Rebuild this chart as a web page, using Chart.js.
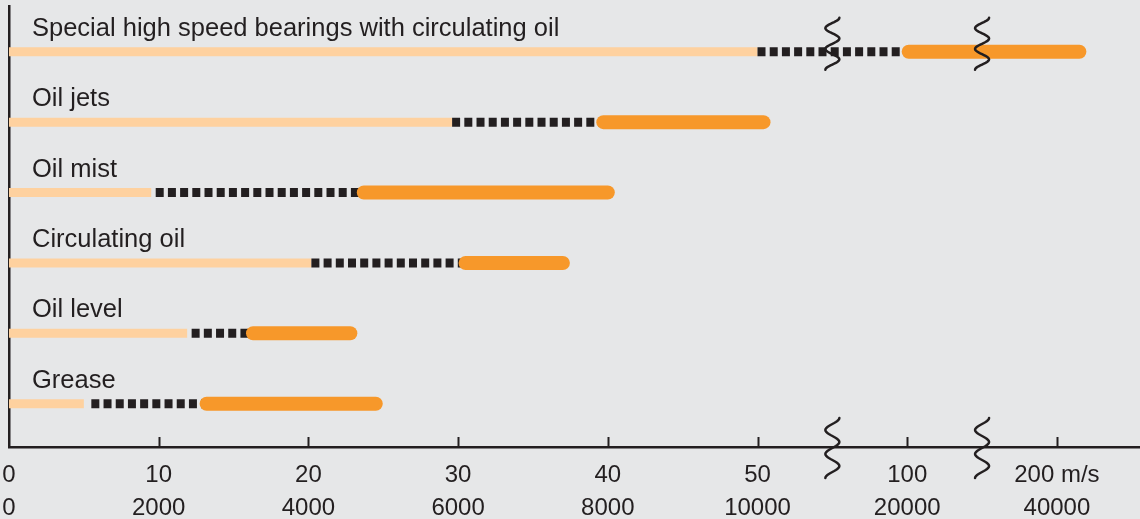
<!DOCTYPE html>
<html>
<head>
<meta charset="utf-8">
<script src="https://cdn.jsdelivr.net/npm/chart.js@4/dist/chart.umd.min.js"></script>
<style>
  html, body { margin: 0; padding: 0; background: #e6e7e8; }
  #wrap { width: 1140px; height: 519px; position: relative; }
</style>
</head>
<body>
<div id="wrap"><canvas id="lubeChart"></canvas></div>
<script>
// lubrication methods, top to bottom
const categories = [
  'Special high speed bearings with circulating oil',
  'Oil jets',
  'Oil mist',
  'Circulating oil',
  'Oil level',
  'Grease'
];

// speeds in m/s
const peachEnd    = [50, 29.6, 9.5, 20.2, 11.9, 5.0];
const dashStart   = [50, 29.6, 9.8, 20.2, 12.2, 5.5];
const orangeStart = [101, 39.7, 23.7, 30.5, 16.3, 13.2];
const orangeEnd   = [215, 52, 40, 37, 22.8, 24.5];

// axis ticks
const tickSpeeds = [0, 10, 20, 30, 40, 50, 100, 200];
const speedLabels = ['0', '10', '20', '30', '40', '50', '100', '200 m/s'];
const dnLabels = ['0', '2000', '4000', '6000', '8000', '10000', '20000', '40000'];

const INK = '#231f20';
const FONT = "'Liberation Sans', Arial, sans-serif";

// broken scale: linear to 50, then each doubling gets 10 units
function axisPos(v) {
  if (v <= 50) return v;
  if (v <= 100) return 50 + (v - 50) / 5;
  return 60 + (v - 100) / 10;
}

const tickPositions = tickSpeeds.map(axisPos);
const breakPositions = [
  (axisPos(50) + axisPos(100)) / 2,
  (axisPos(100) + axisPos(200)) / 2
];

function seg(a, b, row) {
  return [{ x: axisPos(a), y: row }, { x: axisPos(b), y: row }];
}

const datasets = [];
categories.forEach((name, i) => {
  datasets.push({
    label: name + ' (low)',
    data: seg(0, peachEnd[i], i),
    borderColor: '#fed19f',
    borderWidth: 9,
    borderCapStyle: 'butt',
    order: 3
  });
  datasets.push({
    label: name + ' (possible)',
    data: seg(dashStart[i], orangeStart[i], i),
    borderColor: INK,
    borderWidth: 9,
    borderDash: [8, 4.2],
    borderCapStyle: 'butt',
    order: 2
  });
  datasets.push({
    label: name + ' (high)',
    data: seg(orangeStart[i], orangeEnd[i], i),
    borderColor: '#f7982a',
    borderWidth: 14,
    borderCapStyle: 'round',
    order: 1
  });
});

function squiggle(ctx, cx, y0, h) {
  ctx.beginPath();
  for (let k = 0; k <= 60; k++) {
    const t = k / 60;
    const x = cx + 7 * Math.cos(5 * Math.PI * t);
    const y = y0 + t * h;
    if (k === 0) ctx.moveTo(x, y); else ctx.lineTo(x, y);
  }
  ctx.stroke();
}

const decor = {
  id: 'decor',
  afterDraw(chart) {
    const ctx = chart.ctx;
    const xs = chart.scales.x;
    const ys = chart.scales.y;
    const bottom = chart.chartArea.bottom;
    ctx.save();

    // row labels above each bar
    ctx.fillStyle = INK;
    ctx.font = '25.5px ' + FONT;
    ctx.textAlign = 'left';
    ctx.textBaseline = 'alphabetic';
    categories.forEach((name, i) => {
      ctx.fillText(name, 32, ys.getPixelForValue(i) - 16);
    });

    // inward tick marks
    ctx.strokeStyle = INK;
    ctx.lineWidth = 2;
    tickPositions.slice(1).forEach(p => {
      const x = Math.round(xs.getPixelForValue(p)) + 0.5;
      ctx.beginPath();
      ctx.moveTo(x, bottom - 10);
      ctx.lineTo(x, bottom);
      ctx.stroke();
    });

    // scale breaks on axis and on the top bar
    ctx.lineWidth = 2.5;
    ctx.lineCap = 'round';
    breakPositions.forEach(p => {
      const x = xs.getPixelForValue(p);
      squiggle(ctx, x, bottom - 29, 60);
      const yTop = ys.getPixelForValue(0);
      squiggle(ctx, x, yTop - 34, 52);
    });
    ctx.restore();
  }
};

new Chart(document.getElementById('lubeChart'), {
  type: 'line',
  data: { datasets: datasets },
  options: {
    responsive: true,
    maintainAspectRatio: false,
    animation: false,
    layout: { padding: { top: 6, left: 0, right: 0, bottom: 0 } },
    elements: { point: { radius: 0, hoverRadius: 0 }, line: { tension: 0 } },
    plugins: { legend: { display: false }, tooltip: { enabled: false } },
    scales: {
      x: {
        type: 'linear',
        min: 0,
        max: 75.55,
        afterBuildTicks: scale => {
          scale.ticks = tickPositions.map(v => ({ value: v }));
        },
        afterFit: scale => {
          scale.height = 72;
          scale.paddingLeft = 0;
          scale.paddingRight = 0;
        },
        grid: { display: false },
        border: { display: true, color: INK, width: 2.5 },
        ticks: {
          autoSkip: false,
          maxRotation: 0,
          padding: 4,
          color: INK,
          font: { family: FONT, size: 24, lineHeight: 1.36 },
          callback: (value, index) => [speedLabels[index], dnLabels[index]]
        }
      },
      y: {
        type: 'linear',
        reverse: true,
        min: -0.65,
        max: 5.615,
        afterFit: scale => { scale.width = 9; },
        grid: { display: false },
        border: { display: true, color: INK, width: 2.5 },
        ticks: { display: false }
      }
    }
  },
  plugins: [decor]
});
</script>
</body>
</html>
